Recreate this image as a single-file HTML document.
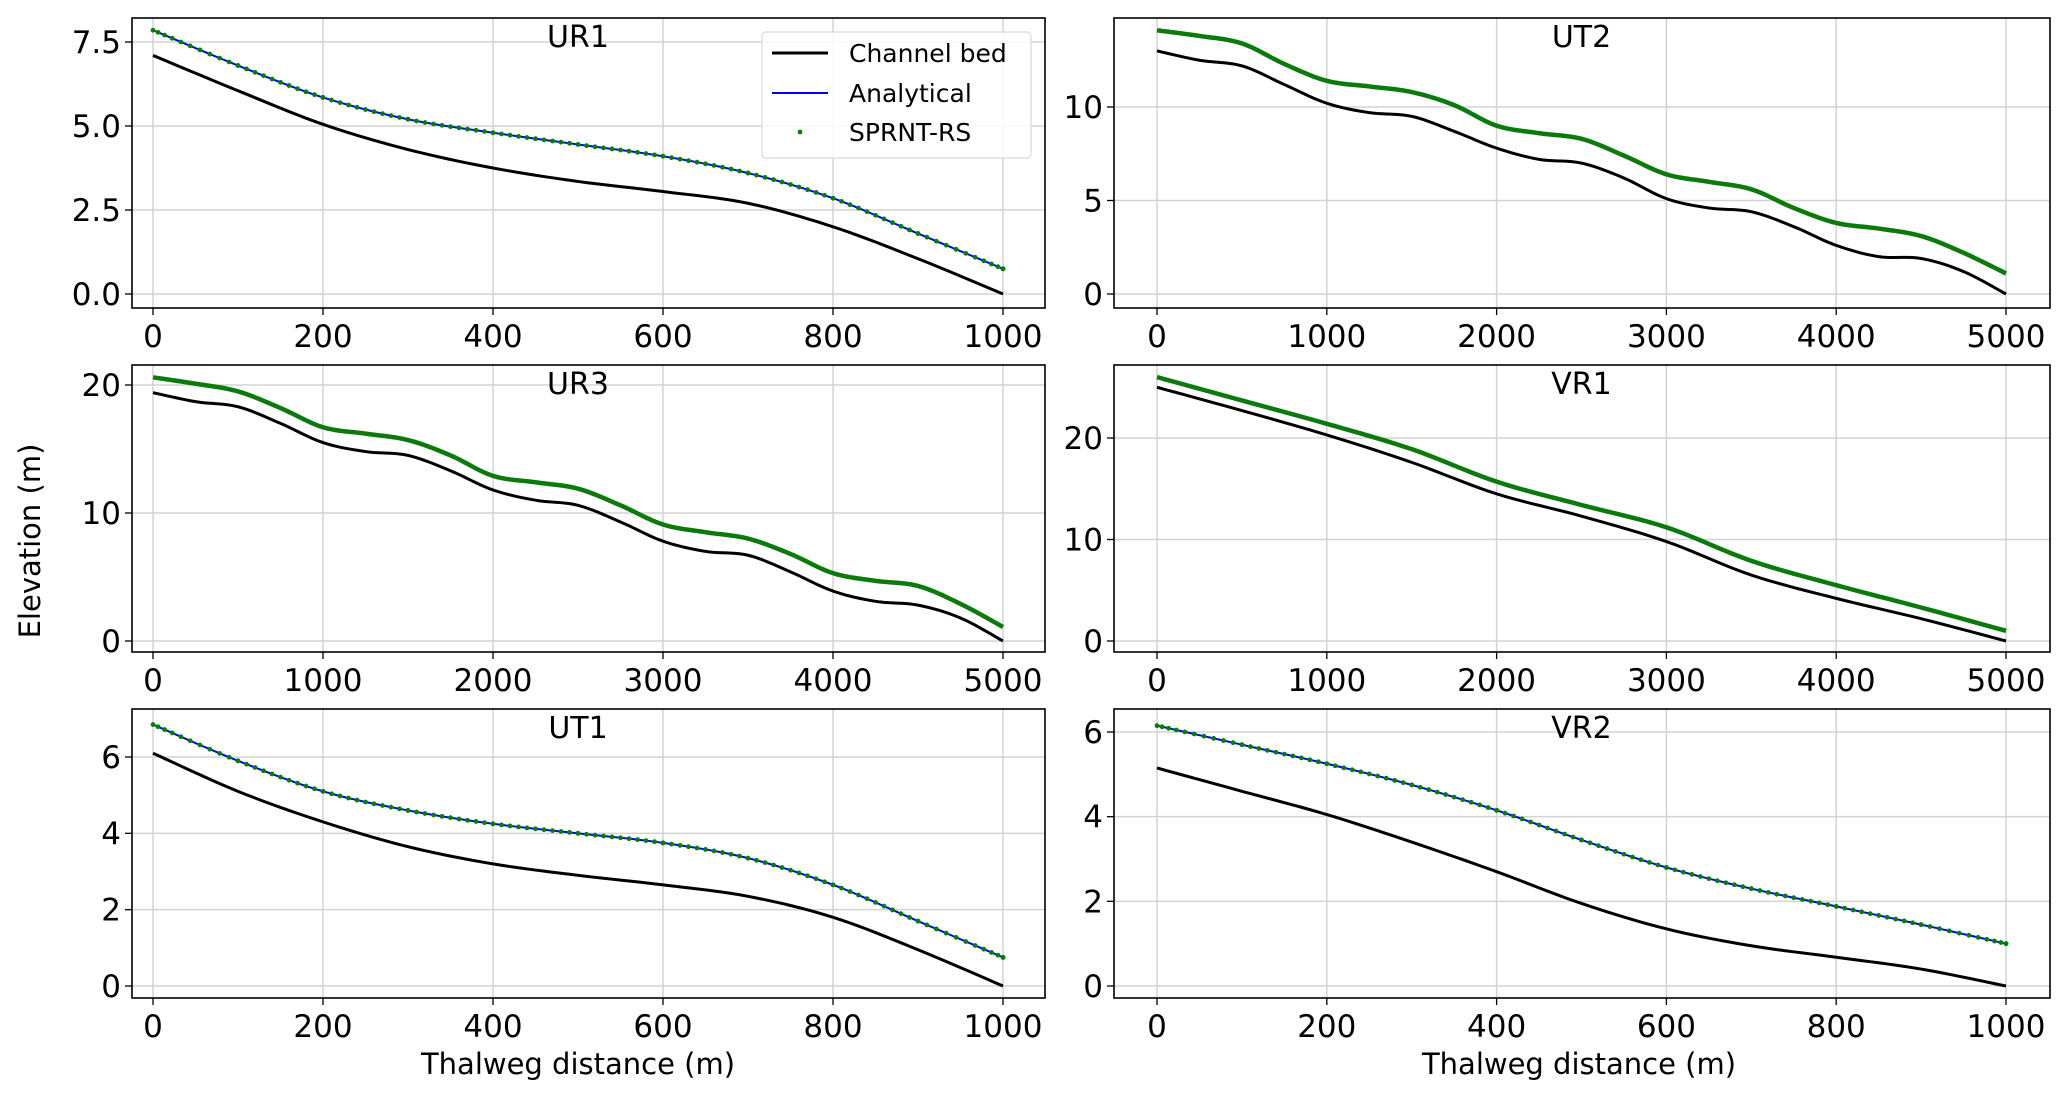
<!DOCTYPE html>
<html><head><meta charset="utf-8"><style>
html,body{margin:0;padding:0;background:#fff;}
svg{display:block;font-family:"DejaVu Sans","Liberation Sans",sans-serif;}
</style></head><body>
<svg id="fig" width="2067" height="1101" viewBox="0 0 2067 1101" xmlns="http://www.w3.org/2000/svg">
<text x="40" y="541" font-size="29" text-anchor="middle" transform="rotate(-90 40 541)">Elevation (m)</text>
<text x="578" y="1074" font-size="29" text-anchor="middle">Thalweg distance (m)</text>
<text x="1579" y="1074" font-size="29" text-anchor="middle">Thalweg distance (m)</text>
</svg>
<script>
// ---- data ----
const ur1X = [0,100,200,300,400,500,600,700,800,900,1000];
const ur1Bed = [7.1,6.05,5.05,4.3,3.75,3.35,3.05,2.7,2.0,1.05,0.0];
const ur1Water = [7.85,6.8,5.85,5.2,4.8,4.45,4.1,3.6,2.85,1.8,0.75];

const ut2X = [0,250,500,750,1000,1250,1500,1750,2000,2250,2500,2750,3000,3250,3500,3750,4000,4250,4500,4750,5000];
const ut2Bed = [13,12.5,12.2,11.2,10.2,9.7,9.5,8.7,7.8,7.2,7.0,6.2,5.1,4.6,4.4,3.6,2.6,2.0,1.9,1.2,0];
const ut2Water = [14.1,13.8,13.4,12.3,11.4,11.1,10.8,10.1,9.0,8.6,8.3,7.4,6.4,6.0,5.6,4.6,3.8,3.5,3.1,2.2,1.1];

const ur3X = [0,250,500,750,1000,1250,1500,1750,2000,2250,2500,2750,3000,3250,3500,3750,4000,4250,4500,4750,5000];
const ur3Bed = [19.4,18.7,18.3,17.0,15.5,14.8,14.5,13.3,11.8,11.0,10.6,9.3,7.8,7.0,6.7,5.4,3.9,3.1,2.8,1.8,0];
const ur3Water = [20.6,20.1,19.5,18.2,16.7,16.2,15.7,14.5,12.9,12.4,11.9,10.6,9.1,8.5,8.0,6.8,5.3,4.7,4.3,2.9,1.1];

const vr1X = [0,500,1000,1500,2000,2500,3000,3500,4000,4500,5000];
const vr1Bed = [25.0,22.7,20.3,17.6,14.5,12.3,9.8,6.5,4.2,2.2,0];
const vr1Water = [26.0,23.7,21.4,18.9,15.7,13.4,11.2,7.9,5.5,3.3,1.0];

const ut1X = [0,100,200,300,400,500,600,700,800,900,1000];
const ut1Bed = [6.1,5.1,4.3,3.65,3.2,2.9,2.65,2.35,1.8,0.95,0];
const ut1Water = [6.85,5.9,5.1,4.6,4.25,4.0,3.75,3.35,2.65,1.7,0.75];

const vr2X = [0,100,200,300,400,500,600,700,800,900,1000];
const vr2Bed = [5.15,4.6,4.05,3.4,2.7,1.95,1.35,0.95,0.68,0.4,0];
const vr2Water = [6.15,5.7,5.25,4.75,4.15,3.45,2.8,2.3,1.88,1.45,1.0];

const ur1YTicks = [0,2.5,5,7.5], ur1YLabels = ["0.0","2.5","5.0","7.5"];
const kmXTicks = [0,1000,2000,3000,4000,5000];
const mXTicks = [0,200,400,600,800,1000];

// ---- layout ----
const NS = "http://www.w3.org/2000/svg";
const svg = document.getElementById('fig');
const panels = [
 {name:'ur1',title:'UR1',x:ur1X,bed:ur1Bed,water:ur1Water,L:132,R:1045,T:18,B:308,x0:153,x1:1003,xmax:1000,y0v:0,y0p:294,y1v:7.5,y1p:42,yt:ur1YTicks,yl:ur1YLabels,xt:mXTicks,dots:true,legend:true},
 {name:'ut2',title:'UT2',x:ut2X,bed:ut2Bed,water:ut2Water,L:1114,R:2050,T:18,B:308,x0:1157,x1:2006,xmax:5000,y0v:0,y0p:294,y1v:10,y1p:107,yt:[0,5,10],yl:["0","5","10"],xt:kmXTicks,dots:false},
 {name:'ur3',title:'UR3',x:ur3X,bed:ur3Bed,water:ur3Water,L:132,R:1045,T:365,B:652,x0:153,x1:1003,xmax:5000,y0v:0,y0p:641,y1v:20,y1p:385,yt:[0,10,20],yl:["0","10","20"],xt:kmXTicks,dots:false},
 {name:'vr1',title:'VR1',x:vr1X,bed:vr1Bed,water:vr1Water,L:1114,R:2050,T:365,B:652,x0:1157,x1:2006,xmax:5000,y0v:0,y0p:641,y1v:20,y1p:438,yt:[0,10,20],yl:["0","10","20"],xt:kmXTicks,dots:false},
 {name:'ut1',title:'UT1',x:ut1X,bed:ut1Bed,water:ut1Water,L:132,R:1045,T:709,B:998,x0:153,x1:1003,xmax:1000,y0v:0,y0p:986,y1v:6,y1p:757,yt:[0,2,4,6],yl:["0","2","4","6"],xt:mXTicks,dots:true},
 {name:'vr2',title:'VR2',x:vr2X,bed:vr2Bed,water:vr2Water,L:1114,R:2050,T:709,B:998,x0:1157,x1:2006,xmax:1000,y0v:0,y0p:986,y1v:6,y1p:732,yt:[0,2,4,6],yl:["0","2","4","6"],xt:mXTicks,dots:true}
];
function mk(tag, attrs, parent){const e=document.createElementNS(NS,tag);for(const k in attrs)e.setAttribute(k,attrs[k]);(parent||svg).appendChild(e);return e;}
function smooth(xs, ys, sx, sy){
  const pts=[];
  for(let i=0;i<xs.length-1;i++){
    const p0=[xs[Math.max(i-1,0)],ys[Math.max(i-1,0)]],p1=[xs[i],ys[i]],p2=[xs[i+1],ys[i+1]],p3=[xs[Math.min(i+2,xs.length-1)],ys[Math.min(i+2,xs.length-1)]];
    for(let t=0;t<1;t+=0.1){
      const t2=t*t,t3=t2*t;
      const f=(a,b,c,d)=>0.5*((2*b)+(-a+c)*t+(2*a-5*b+4*c-d)*t2+(-a+3*b-3*c+d)*t3);
      pts.push([sx(f(p0[0],p1[0],p2[0],p3[0])),sy(f(p0[1],p1[1],p2[1],p3[1]))]);
    }
  }
  pts.push([sx(xs[xs.length-1]),sy(ys[ys.length-1])]);
  return pts;
}
panels.forEach(p=>{
  const g=mk('g',{});
  
  
  const sx=v=>p.x0+(p.x1-p.x0)*v/p.xmax;
  const sy=v=>p.y0p+(p.y1p-p.y0p)*(v-p.y0v)/(p.y1v-p.y0v);
  p.xt.forEach(t=>{
    const l=mk('line',{x1:sx(t),x2:sx(t),y1:p.T,y2:p.B,stroke:'#d3d3d3','stroke-width':1.5},g);
    
    
    mk('line',{x1:sx(t),x2:sx(t),y1:p.B,y2:p.B+7,stroke:'#000','stroke-width':1.3},g);
    const tx=mk('text',{x:sx(t),y:p.B+39,'font-size':31,'text-anchor':'middle'},g);
    tx.textContent=t;
    
    
  });
  p.yt.forEach((t,i)=>{
    const l=mk('line',{x1:p.L,x2:p.R,y1:sy(t),y2:sy(t),stroke:'#d3d3d3','stroke-width':1.5},g);
    
    
    mk('line',{x1:p.L-7,x2:p.L,y1:sy(t),y2:sy(t),stroke:'#000','stroke-width':1.3},g);
    const tx=mk('text',{x:p.L-11,y:sy(t)+11,'font-size':31,'text-anchor':'end'},g);
    tx.textContent=p.yl[i];
    
    
  });
  const bedPts=smooth(p.x,p.bed,sx,sy);
  const bed=mk('polyline',{points:bedPts.map(q=>q.join(',')).join(' '),fill:'none',stroke:'#000','stroke-width':3},g);
  
  
  const wPts=smooth(p.x,p.water,sx,sy);
  if(p.dots){
    const an=mk('polyline',{points:wPts.map(q=>q.join(',')).join(' '),fill:'none',stroke:'#0000ff','stroke-width':2},g);
    
    
    wPts.forEach((q,i)=>{
      const c=mk('circle',{cx:q[0],cy:q[1],r:2,fill:'#008000',stroke:'#008000','stroke-width':0.8},g);
      
      
    });
  } else {
    const an=mk('polyline',{points:wPts.map(q=>q.join(',')).join(' '),fill:'none',stroke:'#0a7a0a','stroke-width':4.5},g);
    
    
  }
  const fr=mk('rect',{x:p.L,y:p.T,width:p.R-p.L,height:p.B-p.T,fill:'none',stroke:'#000','stroke-width':1.6},g);
  
  
  const ti=mk('text',{x:(p.x0+p.x1)/2,y:p.T+29,'font-size':30,'text-anchor':'middle'},g);
  ti.textContent=p.title;
  
  
  if(p.legend){
    const lg=mk('g',{},g);
    
    
    mk('rect',{x:762,y:32,width:269,height:126,rx:4,fill:'#fff','fill-opacity':0.85,stroke:'#d8d8d8','stroke-width':1.2},lg);
    mk('line',{x1:772,x2:828,y1:53,y2:53,stroke:'#000','stroke-width':3},lg);
    mk('line',{x1:772,x2:828,y1:93,y2:93,stroke:'#0000ff','stroke-width':2},lg);
    mk('circle',{cx:800,cy:132,r:2,fill:'#008000',stroke:'#008000','stroke-width':0.8},lg);
    [['Channel bed',53],['Analytical',93],['SPRNT-RS',132]].forEach(([s,y])=>{
      const t=mk('text',{x:849,y:y+9,'font-size':25},lg);
      t.textContent=s;
      
      
    });
  }
});
</script>
</body></html>
